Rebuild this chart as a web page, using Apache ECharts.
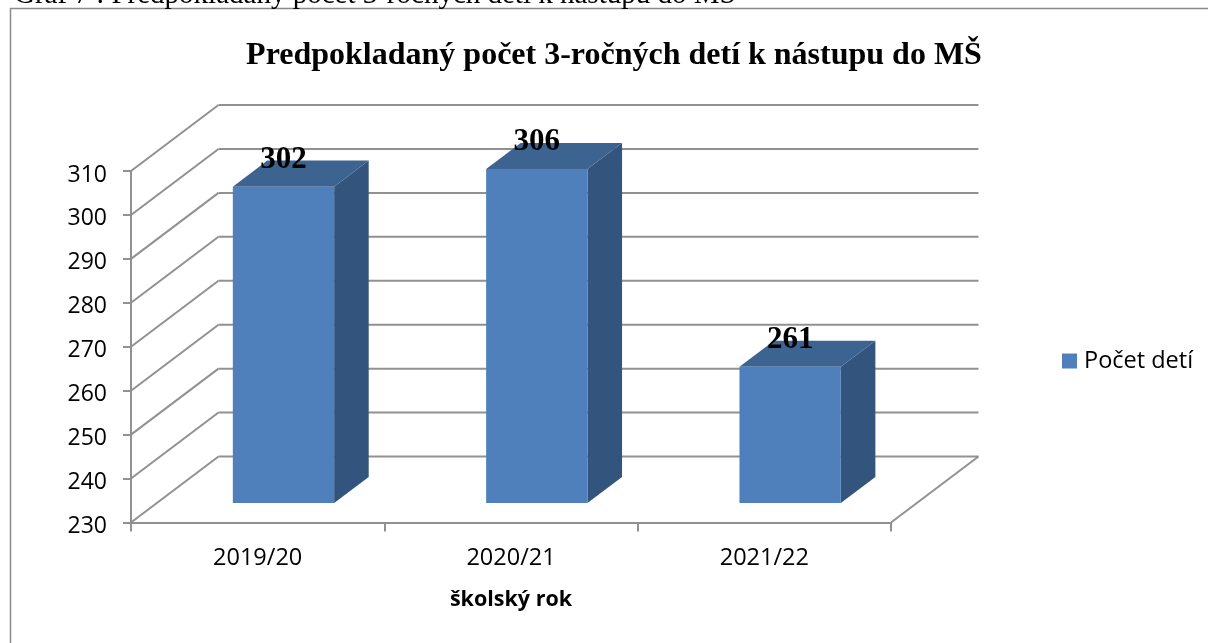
<!DOCTYPE html>
<html>
<head>
<meta charset="utf-8">
<style>
  html, body { margin: 0; padding: 0; background: #fff; }
  #chart { width: 1208px; height: 643px; }
</style>
<script src="https://cdn.jsdelivr.net/npm/echarts@6/dist/echarts.min.js"></script>
</head>
<body>
<div id="chart"></div>
<script>
var categories = ["2019/20", "2020/21", "2021/22"];
var detiValues = [302, 306, 261];
var yTicks = [230, 240, 250, 260, 270, 280, 290, 300, 310];

// fake 3D: how far the back wall sits from the front plane, in px
var wallDx = 87.5;
var wallDy = -66;
// bars stand between these fractions of the depth
var barNear = 0.295;
var barFar = 0.69;
var barWidthShare = 0.4;

var gridColor = "#919191";
var sansFont = "'Open Sans'";
var serifFont = "'Liberation Serif'";

function gridItem(params, api) {
    var rect = params.coordSys;
    var y = api.coord([0, api.value(0)])[1];
    var left = rect.x;
    var right = rect.x + rect.width;
    var style = { stroke: gridColor, lineWidth: 2, fill: null };
    var children = [
        // side wall
        { type: "line", shape: { x1: left, y1: y, x2: left + wallDx, y2: y + wallDy }, style: style },
        // back wall
        { type: "line", shape: { x1: left + wallDx, y1: y + wallDy, x2: right + wallDx, y2: y + wallDy }, style: style }
    ];
    if (params.dataIndex === 0) {
        // floor edge on the right
        children.push({ type: "line", shape: { x1: right, y1: y, x2: right + wallDx, y2: y + wallDy }, style: style });
    }
    return { type: "group", children: children };
}

function barItem(params, api) {
    var idx = api.value(0);
    var val = api.value(1);
    var top = api.coord([idx, val]);
    var base = api.coord([idx, yTicks[0]]);
    var w = api.size([1, 0])[0] * barWidthShare;
    var nx = wallDx * barNear, ny = wallDy * barNear;
    var fx = wallDx * (barFar - barNear), fy = wallDy * (barFar - barNear);
    var x0 = top[0] + nx - w / 2;
    var x1 = x0 + w;
    var yTop = top[1] + ny;
    var yBase = base[1] + ny;
    return {
        type: "group",
        children: [
            {
                type: "polygon",
                shape: { points: [[x1, yTop], [x1 + fx, yTop + fy], [x1 + fx, yBase + fy], [x1, yBase]] },
                style: { fill: "#32547D" }
            },
            {
                type: "polygon",
                shape: { points: [[x0, yTop], [x0 + fx, yTop + fy], [x1 + fx, yTop + fy], [x1, yTop]] },
                style: { fill: "#3D6391" }
            },
            {
                type: "rect",
                shape: { x: x0, y: yTop, width: w, height: yBase - yTop },
                style: { fill: "#4F80BC" }
            },
            {
                type: "text",
                style: {
                    x: x0 + w / 2,
                    y: yTop - 27,
                    text: String(val),
                    align: "center",
                    verticalAlign: "middle",
                    fill: "#000",
                    font: "bold 31px " + serifFont
                }
            }
        ]
    };
}

var chart = echarts.init(document.getElementById("chart"), null, { renderer: "canvas" });
var option = {
    animation: false,
    backgroundColor: "#fff",
    title: [
        {
            text: "Predpokladaný počet 3-ročných detí k nástupu do MŠ",
            left: 614,
            top: 40,
            padding: 0,
            textAlign: "center",
            textStyle: { fontFamily: serifFont, fontWeight: "bold", fontSize: 32, color: "#000" }
        },
        {
            text: "Graf 7 : Predpokladaný počet 3-ročných detí k nástupu do MŠ",
            left: 14,
            top: -19,
            padding: 0,
            textStyle: { fontFamily: serifFont, fontWeight: "normal", fontSize: 29, color: "#000" }
        }
    ],
    legend: {
        left: 1062,
        top: 349,
        padding: 0,
        orient: "vertical",
        itemWidth: 15,
        itemHeight: 15,
        itemGap: 6,
        selectedMode: false,
        data: [{ name: "Počet detí", icon: "rect", itemStyle: { color: "#4F80BC" } }],
        textStyle: { fontFamily: sansFont, fontSize: 23.5, color: "#000", padding: [0, 0, 0, 2] }
    },
    grid: { left: 131, top: 171, width: 760, height: 351.5 },
    xAxis: {
        type: "category",
        data: categories,
        name: "školský rok",
        nameLocation: "middle",
        nameGap: 66,
        nameTextStyle: { fontFamily: sansFont, fontWeight: "bold", fontSize: 21.5, color: "#000" },
        axisLine: { lineStyle: { color: gridColor, width: 2 } },
        axisTick: { show: true, length: 9, lineStyle: { color: gridColor, width: 2 } },
        axisLabel: { margin: 24, fontFamily: sansFont, fontSize: 23.5, color: "#000" },
        splitLine: { show: false }
    },
    yAxis: {
        type: "value",
        min: 230,
        max: 310,
        interval: 10,
        axisLine: { show: true, lineStyle: { color: gridColor, width: 2 } },
        axisTick: { show: true, length: 8, lineStyle: { color: gridColor, width: 2 } },
        axisLabel: { margin: 24, fontFamily: sansFont, fontSize: 23, color: "#000", verticalAlign: "top", lineHeight: 8 },
        splitLine: { show: false }
    },
    graphic: [
        {
            type: "polyline",
            silent: true,
            shape: { points: [[10.5, 643], [10.5, 8.5], [1208, 8.5]] },
            style: { stroke: "#8a8a8a", lineWidth: 1.5, fill: null }
        }
    ],
    series: [
        {
            type: "custom",
            name: "mriežka",
            silent: true,
            renderItem: gridItem,
            encode: { y: 0 },
            data: yTicks.map(function (t) { return [t]; }),
            z: 1
        },
        {
            type: "custom",
            name: "Počet detí",
            silent: true,
            renderItem: barItem,
            itemStyle: { color: "#4F80BC" },
            encode: { x: 0, y: 1 },
            data: detiValues.map(function (v, i) { return [i, v]; }),
            z: 3
        }
    ]
};
chart.setOption(option);
</script>
</body>
</html>
